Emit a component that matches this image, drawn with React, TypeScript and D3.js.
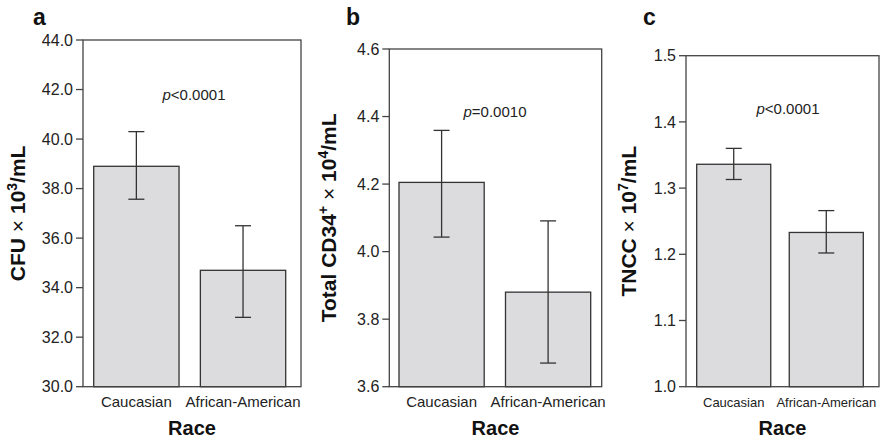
import * as d3 from 'd3'

const races = ['Caucasian', 'African-American']

// a: CFU x 10^3/mL
const cfuMean = [38.9, 34.7]
const cfuLow = [37.57, 32.8]
const cfuHigh = [40.3, 36.5]
const cfuTicks = [30, 32, 34, 36, 38, 40, 42, 44]

// b: total CD34+ x 10^4/mL
const cd34Mean = [4.205, 3.88]
const cd34Low = [4.043, 3.67]
const cd34High = [4.359, 4.091]
const cd34Ticks = [3.6, 3.8, 4.0, 4.2, 4.4, 4.6]

// c: TNCC x 10^7/mL
const tnccMean = [1.336, 1.233]
const tnccLow = [1.313, 1.202]
const tnccHigh = [1.36, 1.266]
const tnccTicks = [1.0, 1.1, 1.2, 1.3, 1.4, 1.5]

const pLabels = ['<0.0001', '=0.0010', '<0.0001']

const FONT = '"Liberation Sans", Arial, Helvetica, sans-serif'
const INK = '#222'

type Part = string | { sup: string } | { thin: string }

type PanelCfg = {
  letter: string
  mean: number[]; low: number[]; high: number[]
  ticks: number[]
  p: string
  title: Part[]
  // layout
  l: number; r: number; t: number; b: number
  bars: [number, number]
  titleX: number; letterX: number; pX: number; pY: number; xFont: number
}

const panels: PanelCfg[] = [
  {
    letter: 'a', mean: cfuMean, low: cfuLow, high: cfuHigh, ticks: cfuTicks, p: pLabels[0],
    title: ['CFU ', { thin: '×' }, ' 10', { sup: '3' }, '/mL'],
    l: 83, r: 301, t: 40, b: 386.7, bars: [93.7, 285.7],
    titleX: 25, letterX: 33, pX: 194, pY: 100, xFont: 15,
  },
  {
    letter: 'b', mean: cd34Mean, low: cd34Low, high: cd34High, ticks: cd34Ticks, p: pLabels[1],
    title: ['Total CD34', { sup: '+' }, ' ', { thin: '×' }, ' 10', { sup: '4' }, '/mL'],
    l: 389.3, r: 601.7, t: 49, b: 386.7, bars: [399, 590.7],
    titleX: 336, letterX: 346, pX: 495, pY: 117, xFont: 15,
  },
  {
    letter: 'c', mean: tnccMean, low: tnccLow, high: tnccHigh, ticks: tnccTicks, p: pLabels[2],
    title: ['TNCC ', { thin: '×' }, ' 10', { sup: '7' }, '/mL'],
    l: 686, r: 879, t: 55.7, b: 386.7, bars: [696.7, 863.3],
    titleX: 636, letterX: 643, pX: 788, pY: 114, xFont: 13,
  },
]

function titleSpans(parts: Part[]) {
  let shift = 0
  return parts.map((part, k) => {
    const back = shift
    shift = 0
    if (typeof part === 'string') return <tspan key={k} dy={back || undefined}>{part}</tspan>
    if ('sup' in part) {
      shift = 8
      return <tspan key={k} dy={back - 8} fontSize={14}>{part.sup}</tspan>
    }
    return <tspan key={k} dy={back || undefined} fontWeight="normal">{part.thin}</tspan>
  })
}

function Panel({ cfg }: { cfg: PanelCfg }) {
  const y = d3.scaleLinear().domain([cfg.ticks[0], cfg.ticks[cfg.ticks.length - 1]]).range([cfg.b, cfg.t])
  const x = d3.scaleBand<string>().domain(races).range(cfg.bars).paddingInner(0.2).paddingOuter(0)
  const fmt = d3.format('.1f')
  const midX = (cfg.l + cfg.r) / 2
  const midY = (cfg.t + cfg.b) / 2
  const cap = 8

  return (
    <g fontFamily={FONT}>
      <text x={cfg.letterX} y={25} fontSize={23} fontWeight="bold" fill="#111">{cfg.letter}</text>

      {/* bars */}
      {races.map((r, i) => (
        <rect key={r} x={x(r)} y={y(cfg.mean[i])} width={x.bandwidth()} height={cfg.b - y(cfg.mean[i])}
          fill="#dcdcdf" stroke="#333" strokeWidth={1.3} />
      ))}

      {/* error bars */}
      {races.map((r, i) => {
        const cx = x(r)! + x.bandwidth() / 2
        return (
          <g key={r} stroke="#333" strokeWidth={1.3}>
            <line x1={cx} x2={cx} y1={y(cfg.high[i])} y2={y(cfg.low[i])} />
            <line x1={cx - cap} x2={cx + cap} y1={y(cfg.high[i])} y2={y(cfg.high[i])} />
            <line x1={cx - cap} x2={cx + cap} y1={y(cfg.low[i])} y2={y(cfg.low[i])} />
          </g>
        )
      })}

      {/* frame */}
      <rect x={cfg.l} y={cfg.t} width={cfg.r - cfg.l} height={cfg.b - cfg.t} fill="none" stroke="#444" strokeWidth={1.3} />

      {/* y ticks */}
      {cfg.ticks.map(v => (
        <g key={v}>
          <line x1={cfg.l - 7} x2={cfg.l} y1={y(v)} y2={y(v)} stroke="#444" strokeWidth={1.3} />
          <text x={cfg.l - 10} y={y(v)} dy="0.36em" textAnchor="end" fontSize={16} fill={INK}>{fmt(v)}</text>
        </g>
      ))}

      {/* x labels */}
      {races.map(r => (
        <text key={r} x={x(r)! + x.bandwidth() / 2} y={406.5} textAnchor="middle" fontSize={cfg.xFont} fill={INK}>{r}</text>
      ))}
      <text x={midX} y={435} textAnchor="middle" fontSize={20} fontWeight="bold" fill="#111">Race</text>

      {/* p value */}
      <text x={cfg.pX} y={cfg.pY} textAnchor="middle" fontSize={15} fill={INK}>
        <tspan fontStyle="italic">p</tspan>{cfg.p}
      </text>

      {/* y title */}
      <text transform={`translate(${cfg.titleX},${midY}) rotate(-90)`} textAnchor="middle" fontSize={21} fontWeight="bold" fill="#111">
        {titleSpans(cfg.title)}
      </text>
    </g>
  )
}

export default function App() {
  return (
    <svg width={880} height={440} style={{ position: 'absolute', left: 0, top: 0, background: '#fff' }}>
      {panels.map(p => <Panel key={p.letter} cfg={p} />)}
    </svg>
  )
}
